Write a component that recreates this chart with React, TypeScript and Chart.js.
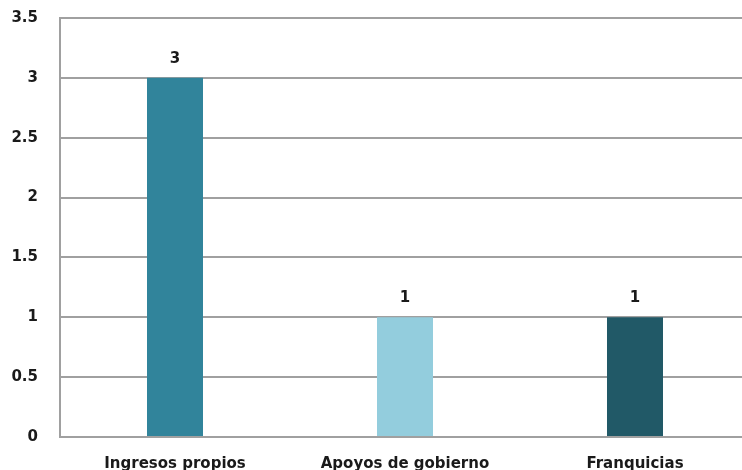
import React, { useEffect, useRef } from "react";
import { Chart, registerables } from "chart.js";

Chart.register(...registerables);

const categories = ["Ingresos propios", "Apoyos de gobierno", "Franquicias"];
const values = [3, 1, 1];
const barColors = ["#31849B", "#93CDDD", "#215967"];
const yTicks = [0, 0.5, 1, 1.5, 2, 2.5, 3, 3.5];

const FONT = "'DejaVu Sans', sans-serif";

const valueLabels = {
  id: "valueLabels",
  afterDatasetsDraw(chart: any) {
    const ctx = chart.ctx;
    const meta = chart.getDatasetMeta(0);
    ctx.save();
    ctx.font = `bold 15px ${FONT}`;
    ctx.fillStyle = "#1a1a1a";
    ctx.textAlign = "center";
    ctx.textBaseline = "middle";
    meta.data.forEach((el: any, i: number) => {
      ctx.fillText(String(values[i]), el.x, el.y - 19);
    });
    ctx.restore();
  },
};

export default function App() {
  const ref = useRef<HTMLCanvasElement>(null);
  useEffect(() => {
    if (!ref.current) return;
    const chart = new Chart(ref.current, {
      type: "bar",
      data: {
        labels: categories,
        datasets: [
          {
            data: values,
            backgroundColor: barColors,
            borderWidth: 0,
            barPercentage: 0.487,
            categoryPercentage: 0.5,
          },
        ],
      },
      options: {
        animation: false,
        responsive: false,
        maintainAspectRatio: false,
        events: [],
        layout: { padding: { top: 8, right: 10, left: 0, bottom: 0 } },
        plugins: { legend: { display: false }, tooltip: { enabled: false } },
        scales: {
          x: {
            grid: { display: false, drawTicks: false },
            border: { display: true, color: "#a0a0a0", width: 2 },
            ticks: {
              padding: 18,
              color: "#1a1a1a",
              font: { family: FONT, size: 15, weight: "bold" },
              maxRotation: 0,
              autoSkip: false,
            },
            afterFit(scale: any) {
              scale.height = 43;
            },
          },
          y: {
            min: 0,
            max: 3.5,
            grid: { color: "#a0a0a0", lineWidth: 2, drawTicks: false },
            border: { display: true, color: "#a0a0a0", width: 2 },
            afterBuildTicks(scale: any) {
              scale.ticks = yTicks.map((v) => ({ value: v }));
            },
            ticks: {
              padding: 22,
              color: "#1a1a1a",
              font: { family: FONT, size: 15, weight: "bold" },
              callback: (v: any) => String(v),
            },
            afterFit(scale: any) {
              scale.width = 60;
            },
          },
        },
      },
      plugins: [valueLabels],
    });
    return () => chart.destroy();
  }, []);
  return (
    <div
      style={{
        position: "fixed",
        left: 0,
        top: 0,
        width: 742,
        height: 470,
        overflow: "hidden",
        background: "#fff",
      }}
    >
      <canvas
        ref={ref}
        width={760}
        height={493}
        style={{ display: "block", position: "absolute", left: 0, top: -13 }}
      />
    </div>
  );
}
